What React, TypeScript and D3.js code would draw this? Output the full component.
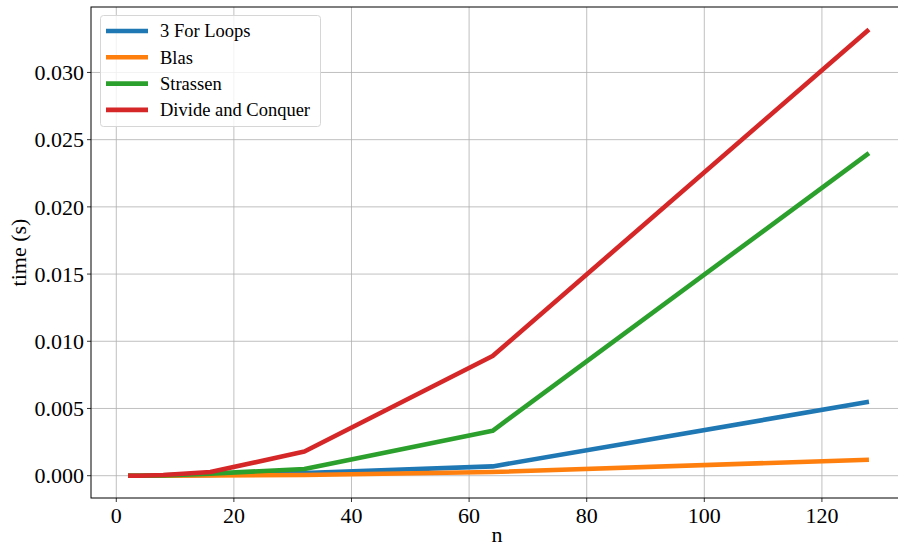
import React from "react";
import * as d3 from "d3";

const sizes = [2, 4, 8, 16, 32, 64, 128];
const forLoops = [0.0, 0.0, 0.00001, 0.00005, 0.0002, 0.00069, 0.0055];
const blas = [0.0, 0.0, 0.0, 0.00001, 0.00005, 0.00027, 0.00119];
const strassen = [0.0, 0.0, 0.00002, 0.00015, 0.0005, 0.00334, 0.024];
const divideConquer = [0.0, 0.0, 0.00005, 0.00027, 0.0018, 0.0089, 0.0332];

const seriesNames = ["3 For Loops", "Blas", "Strassen", "Divide and Conquer"];
const seriesColors = ["#1f77b4", "#ff7f0e", "#2ca02c", "#d62728"];
const seriesValues = [forLoops, blas, strassen, divideConquer];

const xTicks = [0, 20, 40, 60, 80, 100, 120];
const yTicks = [0, 0.005, 0.01, 0.015, 0.02, 0.025, 0.03];

const W = 898;
const H = 548;
const left = 91;
const right = 906;
const top = 7;
const bottom = 498;
const font = "'Liberation Serif', 'Times New Roman', serif";

export default function App() {
  const x = d3.scaleLinear().domain([-4.3, 134.3]).range([left, right]);
  const y = d3.scaleLinear().domain([-0.00166, 0.03487]).range([bottom, top]);
  const line = d3
    .line<number>()
    .x((_, i) => x(sizes[i]))
    .y((d) => y(d));

  return (
    <svg
      width={W}
      height={H}
      style={{ position: "absolute", left: 0, top: 0, background: "#fff" }}
    >
      <defs>
        <clipPath id="plot">
          <rect x={left} y={top} width={right - left} height={bottom - top} />
        </clipPath>
      </defs>
      {/* grid */}
      {xTicks.map((t) => (
        <line key={"gx" + t} x1={x(t)} x2={x(t)} y1={top} y2={bottom} stroke="#b0b0b0" strokeWidth={0.8} />
      ))}
      {yTicks.map((t) => (
        <line key={"gy" + t} x1={left} x2={right} y1={y(t)} y2={y(t)} stroke="#b0b0b0" strokeWidth={0.8} />
      ))}
      {/* series */}
      <g clipPath="url(#plot)">
        {seriesValues.map((vals, i) => (
          <path
            key={seriesNames[i]}
            d={line(vals) || ""}
            fill="none"
            stroke={seriesColors[i]}
            strokeWidth={4.6}
            strokeLinejoin="round"
          />
        ))}
      </g>
      {/* spines */}
      <rect x={left} y={top} width={right - left} height={bottom - top} fill="none" stroke="#000" strokeWidth={1} />
      {/* x ticks */}
      {xTicks.map((t) => (
        <g key={"xt" + t}>
          <line x1={x(t)} x2={x(t)} y1={bottom} y2={bottom + 4} stroke="#000" strokeWidth={0.8} />
          <text x={x(t)} y={bottom + 25} textAnchor="middle" fontFamily={font} fontSize={22}>
            {t}
          </text>
        </g>
      ))}
      {/* y ticks */}
      {yTicks.map((t) => (
        <g key={"yt" + t}>
          <line x1={left - 4} x2={left} y1={y(t)} y2={y(t)} stroke="#000" strokeWidth={0.8} />
          <text x={left - 7} y={y(t)} dy="0.35em" textAnchor="end" fontFamily={font} fontSize={22}>
            {d3.format(".3f")(t)}
          </text>
        </g>
      ))}
      <text x={497} y={542} textAnchor="middle" fontFamily={font} fontSize={22}>
        n
      </text>
      <text
        transform={`translate(26, ${(top + bottom) / 2}) rotate(-90)`}
        textAnchor="middle"
        fontFamily={font}
        fontSize={22}
      >
        time (s)
      </text>
      {/* legend */}
      <g>
        <rect x={100.5} y={15.5} width={220} height={111} rx={3} fill="#fff" fillOpacity={0.8} stroke="#d6d6d6" strokeWidth={1} />
        {seriesNames.map((name, i) => (
          <g key={"lg" + name}>
            <line x1={106} x2={148} y1={31 + i * 26.3} y2={31 + i * 26.3} stroke={seriesColors[i]} strokeWidth={4.6} />
            <text x={160} y={31 + i * 26.3} dy="0.35em" fontFamily={font} fontSize={18.5}>
              {name}
            </text>
          </g>
        ))}
      </g>
    </svg>
  );
}
